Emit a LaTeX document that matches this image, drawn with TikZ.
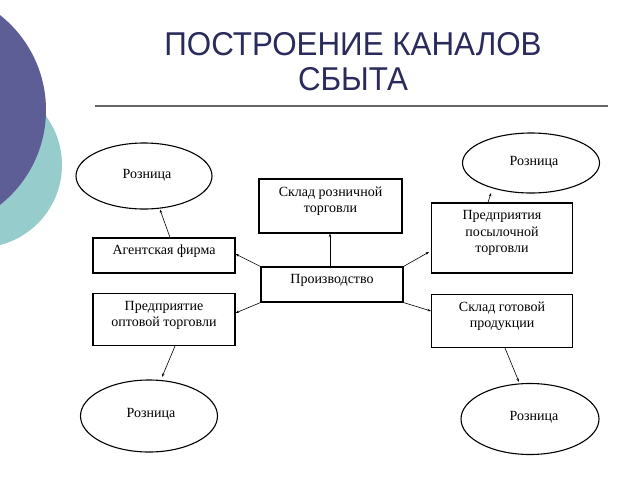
\documentclass[tikz,border=0pt]{standalone}
\usepackage{fontspec}
\setmainfont{Liberation Serif}
\newfontfamily\titlefont{Liberation Sans}
\usetikzlibrary{arrows.meta,shapes.geometric}
\definecolor{darkcirc}{HTML}{5E5E96}
\definecolor{tealcirc}{HTML}{97CCCC}
\definecolor{titlecol}{HTML}{2A2A5C}
\definecolor{rulecol}{HTML}{666666}
\tikzset{
  box/.style={draw=black, line width=1.1pt, rectangle, inner sep=0pt},
  oval/.style={draw=black, line width=1.1pt, ellipse, inner sep=0pt},
  lbl/.style={font=\fontsize{14}{16.5}\selectfont, align=center, inner sep=0pt},
  conn/.style={draw=black, line width=0.6pt, -{Stealth[length=3.5pt,width=2.5pt]}},
}
\begin{document}
\begin{tikzpicture}[x=1pt,y=-1pt]
\useasboundingbox (0,0) rectangle (640,480);
% decorative circles
\fill[tealcirc] (-20.6,165) circle (82.6);
\fill[darkcirc] (-75,110) circle (121);
% title
\node[font=\titlefont\fontsize{33}{35}\selectfont, text=titlecol, align=center, inner sep=0pt, anchor=base] (title) at (353,90) {\scalebox{0.95}[1]{ПОСТРОЕНИЕ КАНАЛОВ}\\\scalebox{0.95}[1]{СБЫТА}};
\coordinate (ruleL) at (95,106);
\coordinate (ruleR) at (608,106);
\draw[rulecol, line width=1.3pt] (ruleL) -- (ruleR);
% boxes
\node[box, minimum width=142, minimum height=35, label={[lbl,yshift=4pt]center:Агентская фирма}] (agent) at (164,255.5) {};
\node[box, minimum width=142, minimum height=52, label={[lbl,yshift=4pt]center:Предприятие\\оптовой торговли}] (opt) at (164,319.5) {};
\node[box, minimum width=142, minimum height=35, label={[lbl,yshift=4pt]center:Производство}] (prod) at (332,284.5) {};
\node[box, minimum width=143, minimum height=54, label={[lbl,yshift=5pt]center:Склад розничной\\торговли}] (sklr) at (330.5,206) {};
\node[box, minimum width=141, minimum height=70, label={[lbl,yshift=5pt]center:Предприятия\\посылочной\\торговли}] (posl) at (502,238) {};
\node[box, minimum width=141, minimum height=53, label={[lbl,yshift=5pt]center:Склад готовой\\продукции}] (sklg) at (502,321) {};
% ellipses
\node[oval, minimum width=136, minimum height=66, label={[lbl,xshift=3pt,yshift=1pt]center:Розница}] (e1) at (144,176) {};
\node[oval, minimum width=137, minimum height=60, label={[lbl,xshift=3pt,yshift=1pt]center:Розница}] (e2) at (531,163) {};
\node[oval, minimum width=137, minimum height=72, label={[lbl,xshift=2pt,yshift=2pt]center:Розница}] (e3) at (149,416) {};
\node[oval, minimum width=138, minimum height=71, label={[lbl,xshift=4pt,yshift=2pt]center:Розница}] (e4) at (530,419) {};
% connectors
\draw[conn] (agent.north -| 170,0) -- (e1.south -| 160,0) ;
\draw[conn] (prod.north west) -- (agent.east |- 0,254);
\draw[conn] (prod.south west) -- (opt.east |- 0,313);
\draw[conn] (prod.north -| 330,0) -- (sklr.south -| 330,0);
\draw[conn] (prod.north east) -- (429,252);
\draw[conn] (prod.south east) -- (posl.west |- 0,311);
\draw[conn] (posl.north -| 488,0) -- (491,193);
\draw[conn] (opt.south -| 175,0) -- (162,377);
\draw[conn] (sklg.south -| 505,0) -- (519,382);
\end{tikzpicture}
\end{document}
